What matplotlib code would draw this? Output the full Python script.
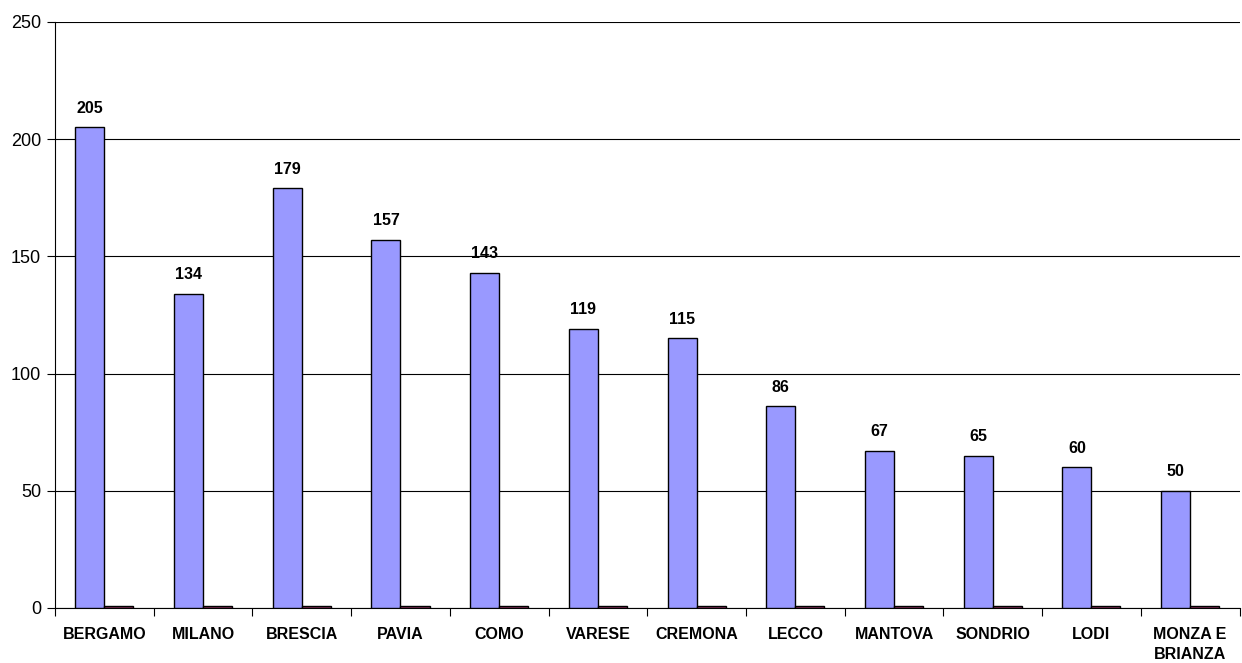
import numpy as np
import matplotlib.pyplot as plt

plt.rcParams['font.family'] = ['Liberation Sans', 'DejaVu Sans']

# dati
province = ['BERGAMO', 'MILANO', 'BRESCIA', 'PAVIA', 'COMO', 'VARESE', 'CREMONA',
            'LECCO', 'MANTOVA', 'SONDRIO', 'LODI', 'MONZA E\nBRIANZA']
valori = [205, 134, 179, 157, 143, 119, 115, 86, 67, 65, 60, 50]
secondaria = [1, 1, 1, 1, 1, 1, 1, 1, 1, 1, 1, 1]

fig = plt.figure(figsize=(12.42, 6.63), dpi=100)
ax = fig.add_axes([0.0443, 0.083, 0.9537, 0.884])

x = np.arange(len(province))
w = 0.294
bars = ax.bar(x - w / 2, valori, w, color='#9999FF', edgecolor='black', linewidth=1, zorder=3)
ax.bar(x + w / 2, secondaria, w, color='#993366', edgecolor='black', linewidth=1, zorder=3)

# etichette valori
for b in bars:
    ax.text(b.get_x() + b.get_width() / 2, b.get_height() + 5, str(int(b.get_height())),
            ha='center', va='bottom', fontsize=11.5, fontweight='bold')

ax.set_xlim(-0.5, len(province) - 0.5)
ax.set_ylim(0, 250)
ax.set_yticks(range(0, 251, 50))
ax.yaxis.grid(True, color='black', linewidth=0.8, zorder=0)
ax.set_axisbelow(True)

ax.set_xticks(x)
ax.set_xticklabels(province, fontsize=11.5, fontweight='bold', va='top', linespacing=1.35)
ax.tick_params(axis='x', length=0, pad=14)
ax.set_xticks(np.arange(-0.5, len(province) + 0.5, 1), minor=True)
ax.tick_params(axis='x', which='minor', length=6, width=0.8, direction='out')
ax.tick_params(axis='y', length=6, width=0.8, direction='out', labelsize=13, pad=4)

for s in ['top', 'right']:
    ax.spines[s].set_visible(False)
ax.spines['left'].set_linewidth(0.8)
ax.spines['bottom'].set_linewidth(0.8)

fig.savefig('out.png', dpi=100)
